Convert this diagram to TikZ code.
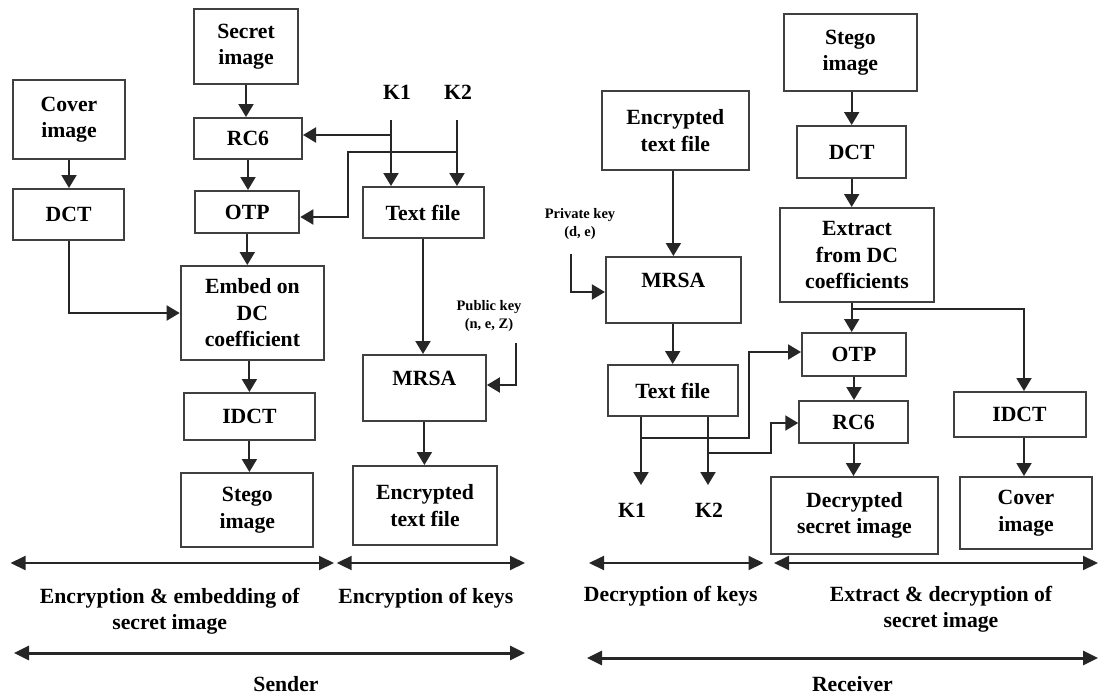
\documentclass[tikz,border=0pt]{standalone}
\usepackage{fontspec}
\setmainfont{Liberation Serif}
\usetikzlibrary{arrows.meta}
\newcommand\bigtxt{\bfseries\fontsize{21.7}{26.5}\selectfont}
\newcommand\smalltxt{\bfseries\fontsize{14.5}{18}\selectfont}
\begin{document}
\begin{tikzpicture}[x=1pt,y=-1pt,
  box/.style={draw=black!75, line width=2pt, inner sep=0pt, align=center, font=\bigtxt},
  txt/.style={inner sep=0pt, align=center, font=\bigtxt},
  small/.style={inner sep=0pt, align=center, font=\smalltxt},
  arr/.style={draw=black!85, line width=2pt, -{Triangle[width=15pt,length=13pt]}},
  span/.style={draw=black!85, line width=2pt, {Triangle[width=14pt,length=15pt]}-{Triangle[width=14pt,length=15pt]}},
  bigspan/.style={span, line width=3pt}
]
\useasboundingbox (0,0) rectangle (1099,696);

% ---------------- Sender ----------------
\node[box, minimum width=104pt, minimum height=75pt] (secret) at (246,46.5) {Secret\\image};
\node[box, minimum width=112pt, minimum height=79pt] (covera) at (69,119.5) {Cover\\image};
\node[box, minimum width=108pt, minimum height=41pt] (rc6a) at (248,138.5) {RC6};
\node[box, minimum width=110.6pt, minimum height=51pt] (dcta) at (68.6,214.5) {DCT};
\node[box, minimum width=104pt, minimum height=42pt] (otpa) at (247.3,212) {OTP};
\node[box, minimum width=121pt, minimum height=51pt] (texta) at (423,212.5) {Text file};
\node[box, minimum width=143.5pt, minimum height=94pt] (embed) at (252.4,313) {Embed on\\DC\\coefficient};
\node[box, minimum width=131pt, minimum height=47pt] (idcta) at (249.4,416.5) {IDCT};
\node[box, minimum width=132pt, minimum height=74pt] (stegoa) at (247.3,510) {Stego\\image};
\node[box, minimum width=123pt, minimum height=66pt] (mrsaa) at (424.4,388) {};
\node[txt] (mrsaat) at (424.4,378) {MRSA};
\node[box, minimum width=143.5pt, minimum height=79pt] (enca) at (425,505.5) {Encrypted\\text file};

\node[txt] (k1a) at (397,92) {K1};
\node[txt] (k2a) at (458,92) {K2};
\coordinate (k1s) at (391,120);
\coordinate (k2s) at (457,120);
\node[small] (pub) at (489,316.5) {Public key\\(n, e, Z)};
\coordinate (pubs) at (516,343);

\draw[arr] (k1s) -- (k1s |- texta.north);
\draw[arr] (k2s) -- (k2s |- texta.north);
\draw[arr] (k1s |- 0,135) -- (rc6a.east |- 0,135);
\draw[arr] (k2s |- 0,152) -- (348,152) -- (348,217) -- (otpa.east |- 0,217);
\draw[arr] (pubs) |- (mrsaa.east |- 0,385);

\draw[arr] (secret.south) -- (secret.south |- rc6a.north);
\draw[arr] (rc6a.south) -- (rc6a.south |- otpa.north);
\draw[arr] (otpa.south) -- (otpa.south |- embed.north);
\draw[arr] (covera.south) -- (covera.south |- dcta.north);
\draw[arr] (dcta.south) |- (embed.west);
\draw[arr] (idcta.north |- embed.south) -- (idcta.north);
\draw[arr] (idcta.south) -- (idcta.south |- stegoa.north);
\draw[arr] (texta.south) -- (texta.south |- mrsaa.north);
\draw[arr] (mrsaa.south) -- (mrsaa.south |- enca.north);

% ---------------- Receiver ----------------
\node[box, minimum width=147pt, minimum height=79pt] (encb) at (675.3,130.5) {Encrypted\\text file};
\node[box, minimum width=133pt, minimum height=77pt] (stegob) at (850.3,52.5) {Stego\\image};
\node[box, minimum width=109pt, minimum height=52pt] (dctb) at (851.7,152) {DCT};
\node[box, minimum width=154pt, minimum height=94pt] (extract) at (857,255) {Extract\\from DC\\coefficients};
\node[box, minimum width=135pt, minimum height=66pt] (mrsab) at (673.4,290) {};
\node[txt] (mrsabt) at (673.4,280) {MRSA};
\node[small] (priv) at (580,224) {Private key\\(d, e)};
\coordinate (privs) at (570.5,254);
\node[box, minimum width=104pt, minimum height=43pt] (otpb) at (854,354.5) {OTP};
\node[box, minimum width=108.5pt, minimum height=42pt] (rc6b) at (853.5,422) {RC6};
\node[box, minimum width=130pt, minimum height=51pt] (textb) at (672.7,390.5) {Text file};
\node[box, minimum width=132pt, minimum height=45pt] (idctb) at (1019.5,414.5) {IDCT};
\node[box, minimum width=132.5pt, minimum height=72pt] (coverb) at (1026,513) {Cover\\image};
\node[box, minimum width=167pt, minimum height=77pt] (decb) at (854.4,515.5) {Decrypted\\secret image};
\node[txt] (k1b) at (632,510) {K1};
\node[txt] (k2b) at (709,510) {K2};
\coordinate (k1e) at (641,485);
\coordinate (k2e) at (708,485);

\draw[arr] (privs) |- (mrsab.west |- 0,292);
\draw[arr] (mrsab.north |- encb.south) -- (mrsab.north);
\draw[arr] (textb.north |- mrsab.south) -- (textb.north);
\draw[arr] (dctb.north |- stegob.south) -- (dctb.north);
\draw[arr] (dctb.south) -- (dctb.south |- extract.north);
\draw[arr] (extract.south -| dctb.south) -- (dctb.south |- otpb.north);
\draw[arr] (dctb.south |- 0,309) -- (1024,309) -- (idctb.north -| 1024,0);
\draw[arr] (idctb.south -| 1024,0) -- (coverb.north -| 1024,0);
\draw[arr] (otpb.south) -- (otpb.south |- rc6b.north);
\draw[arr] (rc6b.south) -- (rc6b.south |- decb.north);
\draw[arr] (k1e |- textb.south) -- (k1e);
\draw[arr] (k2e |- textb.south) -- (k2e);
\draw[arr] (k1e |- 0,438) -- (749,438) -- (749,352) -- (otpb.west |- 0,352);
\draw[arr] (k2e |- 0,453) -- (770.5,453) -- (770.5,423) -- (rc6b.west |- 0,423);

% ---------------- Spans ----------------
\coordinate (s1l) at (10.5,563); \coordinate (s1r) at (334,563);
\coordinate (s2l) at (336.7,563); \coordinate (s2r) at (525,563);
\coordinate (s3l) at (589,563); \coordinate (s3r) at (763.5,563);
\coordinate (s4l) at (774,563); \coordinate (s4r) at (1098,563);
\coordinate (sendl) at (14,653); \coordinate (sendr) at (525,653);
\coordinate (recl) at (587,658); \coordinate (recr) at (1098,658);
\draw[span] (s1l) -- (s1r);
\draw[span] (s2l) -- (s2r);
\draw[span] (s3l) -- (s3r);
\draw[span] (s4l) -- (s4r);
\draw[bigspan] (sendl) -- (sendr);
\draw[bigspan] (recl) -- (recr);

\node[txt] (l1) at (169.75,611) {Encryption \& embedding of\\secret image};
\node[txt] (l2) at (425.8,598) {Encryption of keys};
\node[txt] (l3) at (670.75,596) {Decryption of keys};
\node[txt] (l4) at (941,609) {Extract \& decryption of\\secret image};
\node[txt] (sender) at (286,684) {Sender};
\node[txt] (receiver) at (852.4,684) {Receiver};
\end{tikzpicture}
\end{document}
